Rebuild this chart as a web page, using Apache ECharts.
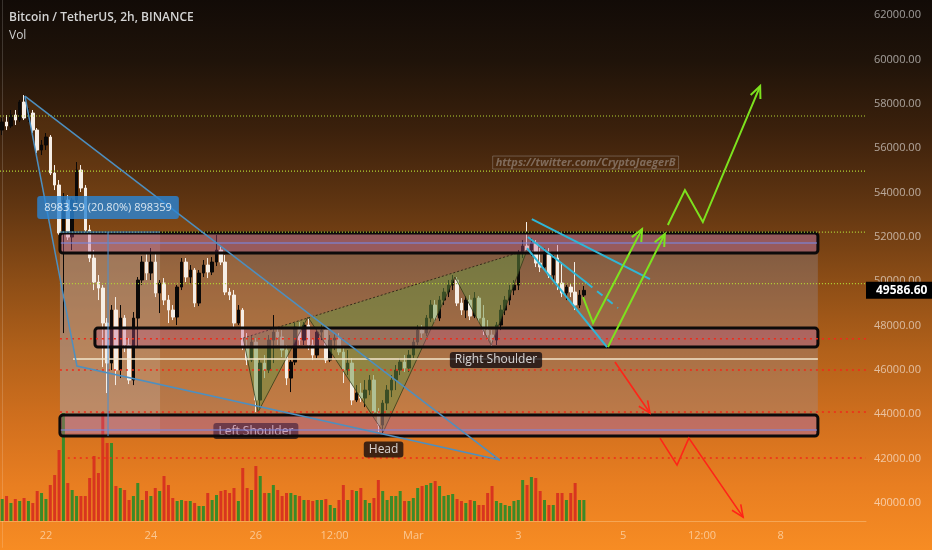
<!DOCTYPE html>
<html><head><meta charset="utf-8">
<script src="https://cdn.jsdelivr.net/npm/echarts/dist/echarts.min.js"></script>
<style>html,body{margin:0;padding:0;background:#000}#c{width:932px;height:550px}</style>
</head><body><div id="c"></div>
<script>
// ---------- DATA ----------
const slotCount = 198;                         // 2h slots on the time axis (incl. future space)
const firstSlot = Date.UTC(2021, 1, 21, 4, 0); // Feb 21 2021 04:00
const tickLabels = [
  ['2021-02-22 00:00', '22'], ['2021-02-24 00:00', '24'], ['2021-02-26 00:00', '26'],
  ['2021-02-27 12:00', '12:00'], ['2021-03-01 00:00', 'Mar'], ['2021-03-03 00:00', '3'],
  ['2021-03-05 00:00', '5'], ['2021-03-06 12:00', '12:00'], ['2021-03-08 00:00', '8']
];
const priceTicks = {min: 38000, max: 62676.3, step: 2000};

const opens = [56814,57175,56995,57491,57265,58077,57355,57581,56814,55912,56138,56499,54875,54334,52170,53658,51990,53658,55011,54199,
52305,51043,49961,49690,48112,46308,48698,45993,48337,47120,45542,48337,50051,50862,50366,50862,49465,49916,49149,48698,
48382,49735,50862,50186,50502,49014,50366,50727,50412,50862,51403,50862,49510,49374,48112,48698,47030,46444,47255,44640,
46308,45993,47345,47706,47481,46894,45632,46353,47932,47345,48022,47120,46669,47706,47796,46444,47345,47436,46804,45993,
46308,44640,44956,44730,45091,45542,44099,43513,44505,45091,45542,45993,46353,46083,46669,47255,47796,47661,48337,48924,
48337,49149,49510,49825,50051,49014,48698,49149,48428,49239,48337,47796,47571,47345,48022,48698,49149,49600,49825,51268,
51584,51403,51719,50817,50637,51313,50276,51043,49916,49465,49735,49510,48924,49374];
const closes = [57175,56995,57491,57265,58077,57355,57581,56814,55912,56138,56499,54875,54334,52170,53658,51990,53658,55011,54199,52305,
51043,49961,49690,48112,46308,48698,45993,48337,47120,45542,48337,50051,50862,50366,50862,49465,49916,49149,48698,48382,
49735,50862,50186,50502,49014,50366,50727,50412,50862,51403,50862,49510,49374,48112,48698,47030,46444,47255,44640,46308,
45993,47345,47706,47481,46894,45632,46353,47932,47345,48022,47120,46669,47706,47796,46444,47345,47436,46804,45993,46308,
44640,44956,44730,45091,45542,44099,43513,44505,45091,45542,45993,46353,46083,46669,47255,47796,47661,48337,48924,48337,
49149,49510,49825,50051,49014,48698,49149,48428,49239,48337,47796,47571,47345,48022,48698,49149,49600,49825,51268,51584,
51403,51719,50817,50637,51313,50276,51043,49916,49465,49735,49510,48924,49374,49586.6];
const lows = [56589,56814,56904,57040,57175,57265,57175,56679,55777,55687,55912,54785,54109,52080,47661,51854,51403,53432,54019,52170,
50862,49600,49149,46128,44956,45993,45316,45632,46804,45361,45316,47030,49825,50051,50051,49284,48563,48924,48112,48247,
48022,49600,49961,49916,48833,48878,50186,50141,50276,50682,50727,49374,49149,47932,48022,46894,46218,46353,44099,44279,
45632,45857,46308,47120,46579,45316,45001,46218,47120,47120,46894,46444,46534,47345,46308,46353,46894,46669,45407,45767,
44414,44550,44550,44324,44865,43964,43197,43152,44189,44775,45091,45767,45903,45903,46534,47120,47436,47526,48157,48157,
48202,48924,49284,49600,48878,48473,48337,48247,48337,48157,47571,47345,47075,47120,47796,48473,48924,49374,49600,51043,
51268,51133,50637,50412,50502,50141,50051,49600,49284,49149,49284,48698,48788,49239];
const highs = [57355,57491,57716,57716,58167,58392,57806,57716,56904,56363,56679,56589,55236,54560,53974,53883,53748,55371,55236,54334,
52531,51403,50276,49825,48337,48924,49284,48924,48473,47436,48608,50186,51133,51313,51494,51313,50051,50141,49374,48924,
49825,51043,51043,50727,50592,50502,50953,51043,51088,52080,51584,51178,49690,49600,48924,48788,47661,47571,47436,46444,
46669,47571,48473,47886,47796,47120,46444,48112,48157,48157,48382,47436,47886,48022,47977,47571,47661,47661,46985,46894,
46534,45316,45407,45542,45767,45767,44279,44640,45316,45767,46218,46534,46669,46894,47436,48022,48022,48473,49149,49149,
49329,49690,50051,50276,50186,49239,49329,49374,49510,49329,48924,48247,47796,48157,48924,49329,49825,50051,51403,51854,
52666,51945,51854,51494,51494,51494,51178,51629,50862,49825,49870,50862,49600,49780];
const volumes = [2200,2500,1800,2200,2000,2300,2000,1800,3000,2800,2200,3600,4600,7100,10800,3800,3100,2500,2500,2500,
4300,6500,4800,10900,7800,7800,3500,3300,3100,2100,2500,3800,2100,3000,2500,3300,3000,4500,3600,2300,
2000,2100,2000,2000,1800,1500,1500,2800,2100,2600,3000,3100,2800,3300,2000,5300,3300,3100,5500,4500,
2800,2800,3600,3100,2500,2800,2800,2600,2500,2100,2100,2000,2100,2100,2200,1600,1300,2100,3600,2100,
3100,3000,3300,2100,1800,2300,4100,3000,2100,2500,2500,3000,2000,2000,2300,3300,3500,3600,3800,4000,
3500,2500,2600,2700,2200,2000,1800,2100,2000,1600,1600,2800,3500,2000,1800,1600,1500,2000,2100,4100,
3600,4400,4300,3000,2100,1600,1600,2800,2800,2100,2800,3800,2100,2100];

// Drawings, in [slot index, price]
const greenLevels = [57446, 54966, 52215, 49893];
const greenLevelStart = [-0.5, -0.5, 13.2, 13.2];
const redLevels = [47409, 45993, 44100, 42026];
const redLevelStart = [13.2, 13.2, 13.2, 15];
const levelEnd = 197.5;
const whiteLevel = [[16.2, 46489], [186.5, 46489]];
const grayBox = [13.2, 186.5, 52170, 43017];
const measureBox = [13.2, 36.1, 52215, 43152];
const measureLines = [[[13.2, 52215], [36.1, 52215]], [[24.2, 52215], [24.2, 43017]]];
const zones = [[13.2, 186.5, 52170, 51268], [21.2, 186.5, 47886, 47030], [13.2, 186.5, 43964, 43017]];
const zoneBands = [[[13.4, 51719], [186.3, 51719]], [[13.4, 43288], [186.3, 43288]]];
const blueTriangle = [[5.2, 58347], [17.1, 46173], [113.8, 41935]];
const hsPoints = [[55.1, 47436], [58.5, 44099], [69.9, 48382], [87.1, 43197], [103.5, 50186], [111.8, 47120], [120.0, 51403]];
const wedgeSolid = [[[121.1, 52801], [148.1, 50096]], [[120.2, 51990], [133.7, 49916]], [[120.0, 51494], [138.3, 47030]]];
const wedgeDash = [[[133.7, 49916], [140.8, 48788]]];
const greenPaths = [
  [[132.8, 49284], [135.1, 48112], [146.3, 52350]],
  [[138.5, 47030], [151.5, 52125]],
  [[152.2, 52531], [156.1, 54109], [160.2, 52666], [173.3, 58798]]
];
const redPaths = [
  [[140.1, 46353], [148.1, 44054]],
  [[150.4, 42927], [154.3, 41709], [157.0, 42927], [169.4, 39365]]
];
const patternLabels = [
  {text: 'Right Shoulder', at: [112.9, 46444]},
  {text: 'Head', at: [87.2, 42408]}
];
const underLabels = [{text: 'Left Shoulder', at: [58.0, 43242]}];
const measureLabel = {text: '8983.59 (20.80%) 898359', at: [24.2, 53320]};
const watermark = {text: 'https://twitter.com/CryptoJaegerB', at: [133.4, 55349]};

// ---------- BUILD ----------
const pad = n => String(n).padStart(2, '0');
const categories = [];
for (let i = 0; i < slotCount; i++) {
  const d = new Date(firstSlot + i * 7200000);
  categories.push(`${d.getUTCFullYear()}-${pad(d.getUTCMonth() + 1)}-${pad(d.getUTCDate())} ${pad(d.getUTCHours())}:${pad(d.getUTCMinutes())}`);
}
const labelMap = Object.fromEntries(tickLabels);
const candleData = opens.map((o, i) => [o, closes[i], lows[i], highs[i]]);
const FONT = 'Open Sans';

function rectSeries(rects, style, z) {
  return {type: 'custom', xAxisIndex: 2, yAxisIndex: 0, z, silent: true, clip: false,
    data: rects.map((r, k) => [k]),
    renderItem(params, api) {
      const r = rects[api.value(0)];
      const a = api.coord([r[0], r[2]]), b = api.coord([r[1], r[3]]);
      return {type: 'rect', shape: {x: a[0], y: a[1], width: b[0] - a[0], height: b[1] - a[1], r: style.r || 0},
        style: {fill: style.fill, stroke: style.stroke || null, lineWidth: style.lineWidth || 0}};
    }};
}
function pathSeries(paths, style, arrow, z, closed) {
  return {type: 'custom', xAxisIndex: 2, yAxisIndex: 0, z, silent: true, clip: false,
    data: paths.map((p, k) => [k]),
    renderItem(params, api) {
      const pts = paths[api.value(0)].map(p => api.coord(p));
      const st = Object.assign({fill: null}, style);
      const children = [{type: closed ? 'polygon' : 'polyline', shape: {points: pts}, style: st}];
      if (arrow) {
        const a = pts[pts.length - 2], b = pts[pts.length - 1];
        const ang = Math.atan2(b[1] - a[1], b[0] - a[0]), L = 13, s = 0.42;
        children.push({type: 'polyline', shape: {points: [
          [b[0] - L * Math.cos(ang - s), b[1] - L * Math.sin(ang - s)], b,
          [b[0] - L * Math.cos(ang + s), b[1] - L * Math.sin(ang + s)]]}, style: Object.assign({fill: null}, style)});
      }
      return {type: 'group', children};
    }};
}
function labelSeries(items, lab, z) {
  return {type: 'scatter', xAxisIndex: 2, yAxisIndex: 0, z, silent: true, symbolSize: 0,
    data: items.map(it => ({value: it.at, label: {formatter: it.text}})),
    label: Object.assign({show: true, position: 'inside'}, lab)};
}

const levelPaths = (levels, starts) => levels.map((p, i) => [[starts[i], p], [levelEnd, p]]);

const chart = echarts.init(document.getElementById('c'), null, {renderer: 'canvas'});
chart.setOption({
  animation: false,
  backgroundColor: {type: 'linear', x: 0, y: 0, x2: 0, y2: 1, colorStops: [
    {offset: 0, color: '#120b07'}, {offset: 0.11, color: '#1f1309'}, {offset: 0.24, color: '#3c210c'},
    {offset: 0.37, color: '#603511'}, {offset: 0.51, color: '#8c4d16'}, {offset: 0.64, color: '#b2611a'},
    {offset: 0.77, color: '#d2701e'}, {offset: 0.88, color: '#e87e21'}, {offset: 1, color: '#f78c23'}]},
  title: {text: 'Bitcoin / TetherUS, 2h, BINANCE', subtext: 'Vol', left: 4, top: 7, itemGap: 6,
    textStyle: {color: '#d4d4d4', fontSize: 12, fontWeight: 600, fontFamily: FONT},
    subtextStyle: {color: '#cfcfcf', fontSize: 12, fontFamily: FONT}},
  grid: [
    {left: 0, right: 66, top: 0, bottom: 2.64},
    {left: 0, right: 66, bottom: 29, height: 120}
  ],
  xAxis: [
    {type: 'category', gridIndex: 0, data: categories, show: false},
    {type: 'category', gridIndex: 1, data: categories,
      axisLine: {show: true, lineStyle: {color: 'rgba(255,225,180,0.35)'}},
      axisTick: {show: false}, splitLine: {show: false},
      axisLabel: {interval: (idx, val) => val in labelMap, formatter: v => labelMap[v] || '',
        color: 'rgba(255,235,210,0.62)', fontSize: 11, fontFamily: FONT, margin: 9}},
    {type: 'value', gridIndex: 0, min: -0.5, max: slotCount - 0.5, show: false}
  ],
  yAxis: [
    {type: 'value', gridIndex: 0, position: 'right', min: priceTicks.min, max: priceTicks.max, interval: priceTicks.step,
      axisLine: {show: true, lineStyle: {color: 'rgba(255,255,255,0.16)'}}, axisTick: {show: false},
      splitLine: {show: false},
      axisLabel: {showMinLabel: false, showMaxLabel: false, formatter: v => v.toFixed(2),
        color: 'rgba(255,255,255,0.58)', fontSize: 11, fontFamily: FONT, margin: 8}},
    {type: 'value', gridIndex: 1, min: 0, max: 12000, show: false}
  ],
  series: [
    rectSeries([grayBox], {fill: 'rgba(150,150,172,0.30)'}, 1),
    rectSeries([measureBox], {fill: 'rgba(200,208,225,0.20)'}, 1),
    pathSeries([blueTriangle], {fill: 'rgba(255,150,40,0.12)', stroke: null}, false, 1, true),
    {type: 'bar', xAxisIndex: 1, yAxisIndex: 1, barWidth: 3, z: 2, silent: true,
      data: volumes.map((v, i) => ({value: v, itemStyle: {color: closes[i] >= opens[i] ? '#3c8a27' : '#d8351f'}}))},
    {type: 'candlestick', xAxisIndex: 0, yAxisIndex: 0, z: 3, barWidth: 3, silent: true, data: candleData,
      itemStyle: {color: '#0b0908', color0: '#f6eee6', borderColor: '#0b0908', borderColor0: '#f6eee6', borderWidth: 1},
      markLine: {silent: true, symbol: ['none', 'none'], animation: false,
        lineStyle: {color: 'rgba(0,0,0,0)', width: 0, type: 'solid'},
        label: {show: true, position: 'end', distance: 0, formatter: p => p.value.toFixed(2),
          backgroundColor: '#000', color: '#fff', fontWeight: 'bold', fontSize: 12, fontFamily: FONT, padding: [3, 5, 2, 10]},
        data: [{yAxis: closes[closes.length - 1]}]}},
    pathSeries([hsPoints], {fill: 'rgba(105,145,65,0.5)', stroke: null}, false, 4, true),
    pathSeries([hsPoints.slice(0)], {stroke: 'rgba(50,60,25,0.8)', lineWidth: 1}, false, 5, false),
    pathSeries([[hsPoints[0], hsPoints[hsPoints.length - 1]]], {stroke: 'rgba(40,30,20,0.85)', lineWidth: 1, lineDash: [2, 2]}, false, 5, false),
    labelSeries(underLabels, {color: '#fff', backgroundColor: 'rgba(18,12,22,0.92)', padding: [2, 5], borderRadius: 3, fontSize: 12, fontFamily: FONT}, 5),
    rectSeries(zones, {fill: 'rgba(190,88,140,0.36)', stroke: '#0c0a0a', lineWidth: 3, r: 3}, 6),
    pathSeries(zoneBands, {stroke: 'rgba(120,135,225,0.55)', lineWidth: 2}, false, 6, false),
    pathSeries(levelPaths(greenLevels, greenLevelStart), {stroke: '#b4d634', lineWidth: 1.2, lineDash: [1, 2]}, false, 7, false),
    pathSeries(levelPaths(redLevels, redLevelStart), {stroke: '#f02a1a', lineWidth: 1.5, lineDash: [2, 4]}, false, 7, false),
    pathSeries([whiteLevel], {stroke: '#f3e6cc', lineWidth: 1.5}, false, 7, false),
    pathSeries(measureLines, {stroke: '#4a8fd0', lineWidth: 1}, false, 7, false),
    pathSeries([[blueTriangle[0], blueTriangle[2]], [blueTriangle[0], blueTriangle[1], blueTriangle[2]]], {stroke: '#4d8fc0', lineWidth: 1.5}, false, 7, false),
    pathSeries(wedgeSolid, {stroke: '#2fb6d6', lineWidth: 2}, false, 8, false),
    pathSeries(wedgeDash, {stroke: '#2fb6d6', lineWidth: 2, lineDash: [7, 6]}, false, 8, false),
    pathSeries(greenPaths, {stroke: '#7de21e', lineWidth: 2}, true, 8, false),
    pathSeries(redPaths, {stroke: '#ff2418', lineWidth: 1.6}, true, 8, false),
    labelSeries(patternLabels, {color: '#fff', backgroundColor: 'rgba(12,8,14,0.95)', padding: [2, 5], borderRadius: 3, fontSize: 12, fontFamily: FONT}, 9),
    labelSeries([measureLabel], {color: '#fff', backgroundColor: '#2a86d6', padding: [6, 7], borderRadius: 3, fontSize: 11, fontFamily: FONT}, 9),
    labelSeries([watermark], {color: 'rgba(185,180,175,0.6)', fontStyle: 'italic', fontWeight: 'bold', fontSize: 11, fontFamily: FONT,
      borderColor: 'rgba(170,165,160,0.5)', borderWidth: 1, padding: [1, 3]}, 9)
  ]
});
</script></body></html>
